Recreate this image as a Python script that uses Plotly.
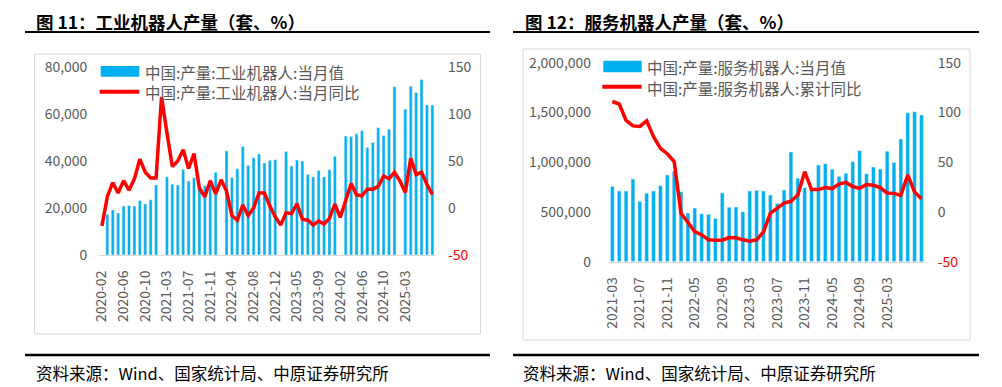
import plotly.graph_objects as go

# ---------------- data ----------------
ind_months = [f"{y}-{m:02d}" for y in range(2020, 2026) for m in range(2, 13)
              if not (y == 2025 and m > 8)]
ind_output = [None, 17300, 19100, 17900, 20800, 21100, 20800, 23200, 21700, 23500, 29800,
              None, 33200, 30100, 29800, 36400, 31500, 32900, 29000, 29500, 31500, 35200,
              None, 44300, 32900, 36700, 46200, 38100, 41400, 43000, 39100, 40300, 40500,
              None, 44000, 37900, 40400, 40000, 34300, 33200, 36000, 33200, 36300, 42000,
              None, 50600, 50400, 51600, 52900, 45700, 47900, 54200, 50900, 53500, 71600,
              None, 62100, 71800, 69200, 74700, 63800, 63800]
ind_yoy = [-19, 12, 27, 16, 29, 19, 31, 52, 38, 32, 32,
           118, 80, 44, 50, 62, 42, 58, 21, 12, 29, 15,
           30, 18, -8, -13, 3, -8, 0, 16, 16, 2, -9.5,
           -18, -5, -6, 4.5, -12, -13, -18, -14, -17, -11, 4,
           -10, 8, 26, 14, 13, 20, 20, 23, 34, 31, 38,
           29, 16.5, 53, 35.5, 38, 25, 14.5]

svc_months = [f"{y}-{m:02d}" for y in range(2021, 2026) for m in range(3, 13)
              if not (y == 2025 and m > 8)]
svc_output = [757000, 710000, 710000, 831000, 606000, 687000, 710000, 764000, 871000, 908000,
              703000, 489000, 539000, 482000, 476000, 436000, 690000, 546000, 549000, 502000,
              710000, 717000, 710000, 670000, 586000, 720000, 1102000, 838000, 744000, 740000,
              972000, 985000, 928000, 858000, 888000, 1005000, 1116000, 884000, 951000, 931000,
              1109000, 998000, 1233000, 1497000, 1508000, 1474000]
svc_yoy = [111, 108.5, 92, 86.5, 86, 91.5, 75.7, 64, 58.5, 50.6,
           -1.3, -11, -19.8, -23, -28, -28.5, -28.5, -25.7, -26, -28,
           -29.5, -28, -20, -1.3, 4, 9, 10.7, 17, 40.5, 22.5,
           22.5, 24.5, 23.5, 28, 29.7, 25.5, 23.8, 27.6, 26.8, 24.5,
           19, 18.5, 16.6, 37.2, 20, 13.2]

ind_ticks = ind_months[:57:4]   # 2020-02 ... 2025-03
svc_ticks = svc_months[:41:4]   # 2021-03 ... 2025-03

names = {
    "ind_bar": "中国:产量:工业机器人:当月值",
    "ind_line": "中国:产量:工业机器人:当月同比",
    "svc_bar": "中国:产量:服务机器人:当月值",
    "svc_line": "中国:产量:服务机器人:累计同比",
}
titles = ["图 11：工业机器人产量（套、%）", "图 12：服务机器人产量（套、%）"]
source = "资料来源：Wind、国家统计局、中原证券研究所"

# ---------------- styling ----------------
W, H = 1002, 387
OFF = 8  # page body margin
BLUE = "#00B0F0"
RED = "#FF0000"
GREY = "#595959"
FONT = "Noto Sans CJK SC"


def X(px):
    return (px - OFF) / W


def Y(py):
    return 1 - (py - OFF) / H


fig = go.Figure()
fig.add_trace(go.Bar(x=ind_months, y=ind_output, marker_color=BLUE, width=0.55,
                     name=names["ind_bar"], xaxis="x", yaxis="y", showlegend=False))
fig.add_trace(go.Scatter(x=ind_months, y=ind_yoy, mode="lines", line=dict(color=RED, width=3.5),
                         name=names["ind_line"], xaxis="x", yaxis="y2", showlegend=False))
fig.add_trace(go.Bar(x=svc_months, y=svc_output, marker_color=BLUE, width=0.55,
                     name=names["svc_bar"], xaxis="x2", yaxis="y3", showlegend=False))
fig.add_trace(go.Scatter(x=svc_months, y=svc_yoy, mode="lines", line=dict(color=RED, width=3.5),
                         name=names["svc_line"], xaxis="x2", yaxis="y4", showlegend=False))

tickfont = dict(family=FONT, size=14, color=GREY)
pct_vals = [-50, 0, 50, 100, 150]
pct_text = ['<span style="color:#FF0000">-50</span>', "0", "50", "100", "150"]

xcommon = dict(type="category", showgrid=False, zeroline=False, showline=True,
               linecolor="#D9D9D9", linewidth=1, tickangle=-90, tickfont=tickfont,
               ticks="outside", ticklen=9, tickcolor="rgba(0,0,0,0)", fixedrange=True,
               automargin=False)
ycommon = dict(showgrid=False, zeroline=False, showline=False, tickfont=tickfont,
               ticks="outside", tickcolor="rgba(0,0,0,0)", fixedrange=True, automargin=False)

fig.update_layout(
    width=W, height=H, margin=dict(l=0, r=0, t=0, b=0),
    paper_bgcolor="white", plot_bgcolor="rgba(0,0,0,0)",
    xaxis=dict(domain=[X(99.2), X(435.1)], anchor="y", range=[-0.5, len(ind_months) - 0.5],
               tickvals=ind_ticks, ticktext=ind_ticks, **xcommon),
    yaxis=dict(domain=[Y(255), Y(67)], anchor="x", range=[0, 80000],
               tickvals=[0, 20000, 40000, 60000, 80000], tickformat=",", ticklen=8, **ycommon),
    yaxis2=dict(domain=[Y(255), Y(67)], anchor="x", overlaying="y", side="right",
                range=[-50, 150], tickvals=pct_vals, ticktext=pct_text, ticklen=9, **ycommon),
    xaxis2=dict(domain=[X(608.9), X(924.9)], anchor="y3", range=[-0.5, len(svc_months) - 0.5],
                tickvals=svc_ticks, ticktext=svc_ticks, **xcommon),
    yaxis3=dict(domain=[Y(261.7), Y(62.7)], anchor="x2", range=[0, 2000000],
                tickvals=[0, 500000, 1000000, 1500000, 2000000], tickformat=",", ticklen=14,
                **ycommon),
    yaxis4=dict(domain=[Y(261.7), Y(62.7)], anchor="x2", overlaying="y3", side="right",
                range=[-50, 150], tickvals=pct_vals, ticktext=pct_text, ticklen=9, **ycommon),
)

shapes = []
# chart frames
for x0, x1, y0, y1 in [(34.5, 480.5, 54, 334), (523, 970, 49, 340)]:
    shapes.append(dict(type="rect", xref="paper", yref="paper", x0=X(x0), x1=X(x1),
                       y0=Y(y1), y1=Y(y0), line=dict(color="#D9D9D9", width=1),
                       fillcolor="rgba(0,0,0,0)", layer="below"))
# title underlines and source lines
for x0, x1 in [(25, 490), (513, 979)]:
    for yy, lw in [(32, 2.2), (355, 2.5)]:
        shapes.append(dict(type="line", xref="paper", yref="paper", x0=X(x0), x1=X(x1),
                           y0=Y(yy), y1=Y(yy), line=dict(color="black", width=lw)))
# legend swatches
for bx0, bx1, by0, by1, ly in [(100.7, 139.3, 66, 76.7, 91.7), (603.3, 641.7, 60.7, 72.3, 86.7)]:
    shapes.append(dict(type="rect", xref="paper", yref="paper", x0=X(bx0), x1=X(bx1),
                       y0=Y(by1), y1=Y(by0), line=dict(width=0), fillcolor=BLUE))
    shapes.append(dict(type="line", xref="paper", yref="paper", x0=X(bx0 - 1), x1=X(bx1),
                       y0=Y(ly), y1=Y(ly), line=dict(color=RED, width=4)))

ann = []


def text(x, y, s, size, color, bold=False, yanchor="middle"):
    ann.append(dict(xref="paper", yref="paper", x=X(x), y=Y(y), xanchor="left",
                    yanchor=yanchor, showarrow=False, borderpad=0,
                    text=f"<b>{s}</b>" if bold else s,
                    font=dict(family=FONT, size=size, color=color)))


text(35, 8, titles[0], 17.5, "black", bold=True, yanchor="top")
text(524, 8, titles[1], 17.5, "black", bold=True, yanchor="top")
text(144, 71.7, names["ind_bar"], 15.5, GREY)
text(144, 92.5, names["ind_line"], 15.5, GREY)
text(646, 67.3, names["svc_bar"], 15.5, GREY)
text(646, 87.7, names["svc_line"], 15.5, GREY)
text(35, 373, source, 16.5, "black")
text(522, 373, source, 16.5, "black")

fig.update_layout(shapes=shapes, annotations=ann)
fig.write_html("out.html")
